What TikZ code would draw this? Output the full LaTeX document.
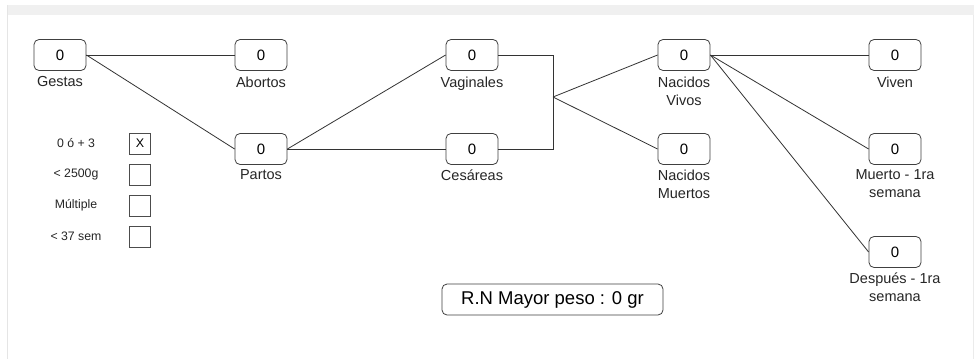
\documentclass[tikz,border=0pt]{standalone}
\usepackage{fontspec}
\setmainfont{Liberation Sans}
\begin{document}
\begin{tikzpicture}[x=1pt,y=-1pt,
  valbox/.style={draw=black!75, line width=0.8pt, rounded corners=5pt, minimum width=52pt, minimum height=31pt, inner sep=0pt, font=\fontsize{15}{17}\selectfont, fill=white},
  lbl/.style={align=center, font=\fontsize{14.5}{18}\selectfont, text=black!85, anchor=north, inner sep=0pt},
  conn/.style={draw=black!80, line width=0.8pt},
  chk/.style={draw=black!70, line width=0.8pt, minimum width=21pt, minimum height=21pt, inner sep=0pt, font=\fontsize{12.5}{14}\selectfont},
  chklbl/.style={font=\fontsize{12.3}{14}\selectfont, text=black!85, inner sep=0pt}]
\useasboundingbox (0,0) rectangle (974,359);
\fill[white] (0,0) rectangle (974,359);
\fill[black!6] (7,5) rectangle (974,15);
\draw[black!10, line width=1pt] (7,5) -- (7,359);
\draw[black!8, line width=0.8pt] (973,15) -- (973,359);

% value boxes
\node[valbox] (ges) at (60,55) {0};
\node[valbox] (abo) at (261,55) {0};
\node[valbox] (par) at (261,149) {0};
\node[valbox] (vag) at (472,55) {0};
\node[valbox] (ces) at (472,149) {0};
\node[valbox] (nv) at (684,55) {0};
\node[valbox] (nm) at (684,149) {0};
\node[valbox] (viv) at (895,55) {0};
\node[valbox] (mue) at (895,149) {0};
\node[valbox] (des) at (895,252) {0};

% labels
\node[lbl] (lges) at (60,76.5) {Gestas};
\node[lbl] (labo) at (261,76.5) {Abortos};
\node[lbl] (lpar) at (261,169.5) {Partos};
\node[lbl] (lvag) at (472,76.5) {Vaginales};
\node[lbl] (lces) at (472,169.5) {Cesáreas};
\node[lbl] (lnv) at (684,76.5) {Nacidos\\Vivos};
\node[lbl] (lnm) at (684,169.5) {Nacidos\\Muertos};
\node[lbl] (lviv) at (895,76.5) {Viven};
\node[lbl] (lmue) at (895,169.5) {Muerto - 1ra\\semana};
\node[lbl] (ldes) at (895,272.5) {Después - 1ra\\semana};

% connectors
\coordinate (j1) at (553,55);
\coordinate (j2) at (553,149);
\coordinate (jm) at (553,97);
\draw[conn] (ges.east) -- (abo.west);
\draw[conn] (ges.east) -- (par.west);
\draw[conn] (par.east) -- (vag.west);
\draw[conn] (par.east) -- (ces.west);
\draw[conn] (vag.east) -- (j1) -- (j2) -- (ces.east);
\draw[conn] (jm) -- (nv.west);
\draw[conn] (jm) -- (nm.west);
\draw[conn] (nv.east) -- (viv.west);
\draw[conn] (nv.east) -- (mue.west);
\draw[conn] (nv.east) -- (des.west);

% checkboxes
\node[chklbl] (c1l) at (76,143.5) {0 ó + 3};
\node[chklbl] (c2l) at (76,174.5) {< 2500g};
\node[chklbl] (c3l) at (76,205.5) {Múltiple};
\node[chklbl] (c4l) at (76,236.5) {< 37 sem};
\node[chk] (c1) at (140,143.5) {X};
\node[chk] (c2) at (140,174.5) {};
\node[chk] (c3) at (140,205.5) {};
\node[chk] (c4) at (140,236.5) {};

% RN box
\node[draw=black!75, line width=0.8pt, rounded corners=5pt, minimum width=221pt, minimum height=31pt, inner sep=0pt, font=\fontsize{18.5}{21}\selectfont] (rn) at (552.5,299.5) {R.N Mayor peso : 0 gr};
\end{tikzpicture}
\end{document}
